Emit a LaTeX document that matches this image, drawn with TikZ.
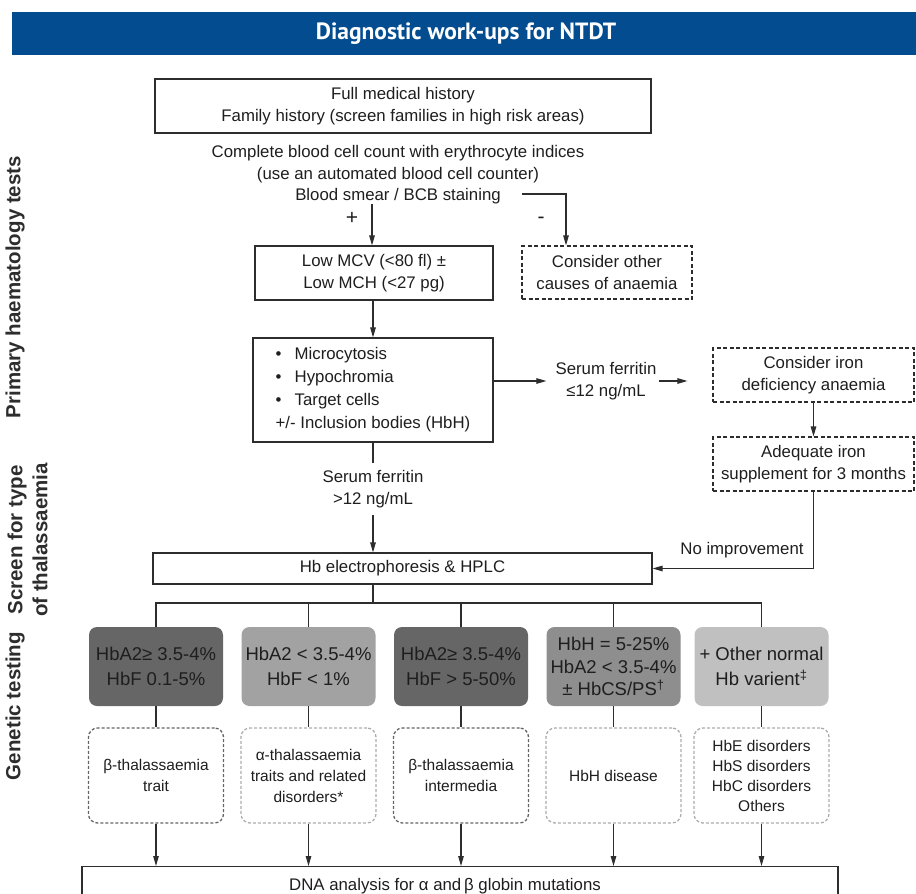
\documentclass[tikz,border=0pt]{standalone}
\usepackage{fontspec}
\setmainfont{Liberation Sans}
\newfontfamily\titlefont{PT Sans}
\usetikzlibrary{arrows.meta,calc}

\definecolor{barblue}{RGB}{2,76,143}
\definecolor{ink}{RGB}{30,30,30}
\definecolor{linecol}{RGB}{45,45,45}
\definecolor{labelgrey}{RGB}{45,45,45}
\definecolor{gdark}{RGB}{102,102,102}
\definecolor{glight}{RGB}{162,162,162}
\definecolor{gmid}{RGB}{142,142,142}
\definecolor{gpale}{RGB}{192,192,192}
\definecolor{dotdark}{RGB}{100,100,100}
\definecolor{dotlight}{RGB}{172,172,172}

\begin{document}
\begin{tikzpicture}[x=1pt,y=-1pt,
  every node/.style={text=ink, inner sep=0pt, font=\fontsize{16.8}{21.5}\selectfont},
  sq/.style={draw=linecol, line width=1.1pt, align=center},
  dsq/.style={sq, dash pattern=on 4pt off 2.5pt},
  greybox/.style={fill=#1, rounded corners=8pt, minimum width=134pt, minimum height=79pt,
    align=center, font=\fontsize{18.5}{24.5}\selectfont},
  dotbox/.style={draw=#1, rounded corners=9pt, line width=1.3pt, dash pattern=on 3pt off 2pt,
    minimum width=135pt, minimum height=95pt, align=center, font=\fontsize{15.5}{21}\selectfont},
  arr/.style={draw=linecol, line width=1.1pt, -{Triangle[length=10pt,width=5.5pt]}},
  conn/.style={draw=linecol, line width=1.1pt},
  sign/.style={font=\fontsize{21}{24}\selectfont},
  sidelabel/.style={rotate=90, text=labelgrey, align=center,
    font=\bfseries\fontsize{20.5}{25}\selectfont}
]
\useasboundingbox (0,0) rectangle (916,894);

% title bar
\fill[barblue] (12,12) rectangle (916,55);
\node[text=white, font=\titlefont\bfseries\fontsize{23.5}{26}\selectfont] (title) at (466,33.5) {Diagnostic work-ups for NTDT};

% side labels
\node[sidelabel] (labA) at (15,287) {Primary haematology tests};
\node[sidelabel] (labB) at (27.5,540) {Screen for type\\of thalassaemia};
\node[sidelabel] (labC) at (15,706) {Genetic testing};

% primary tests
\node[sq, minimum width=496pt, minimum height=54pt] (hist) at (403,106)
  {Full medical history\\Family history (screen families in high risk areas)};
\node[align=center] (cbc) at (398,175)
  {Complete blood cell count with erythrocyte indices\\(use an automated blood cell counter)\\Blood smear / BCB staining};
\coordinate (posstart) at (372,204);
\coordinate (negstart) at (522,194);
\node[sign] (plus) at (352,218) {+};
\node[sign] (minus) at (541,220) {-};

\node[sq, minimum width=238pt, minimum height=54pt] (mcv) at (374,273)
  {Low MCV (<80 fl) ±\\Low MCH (<27 pg)};
\node[dsq, minimum width=170pt, minimum height=53pt] (other) at (607,272.5)
  {Consider other\\causes of anaemia};

\draw[arr] (posstart) -- (posstart |- mcv.north);
\draw[arr] (negstart) -| ([xshift=-41pt]other.north);

\node[sq, minimum width=240pt, minimum height=104pt, align=left,
  font=\fontsize{16.8}{23}\selectfont] (smear) at (373,390)
  {\makebox[19pt][l]{\textbullet}Microcytosis\\
   \makebox[19pt][l]{\textbullet}Hypochromia\\
   \makebox[19pt][l]{\textbullet}Target cells\\
   +/- Inclusion bodies (HbH)};
\draw[arr] (mcv.south -| smear.north) -- (smear.north);

% ferritin branches
\node[align=center, inner ysep=7pt] (ferhi) at (373,489) {Serum ferritin\\>12 ng/mL};
\node[align=center] (ferlo) at (606,381) {Serum ferritin\\≤12 ng/mL};

\node[dsq, minimum width=201pt, minimum height=54pt] (iron) at (813.5,375)
  {Consider iron\\deficiency anaemia};
\node[dsq, minimum width=201pt, minimum height=54pt] (adeq) at (813.5,464)
  {Adequate iron\\supplement for 3 months};

\draw[arr] (smear.east |- ferlo) -- ([xshift=-9pt]ferlo.west);
\draw[arr] ([xshift=2pt]ferlo.east) -- ([xshift=-25pt]iron.west |- ferlo);
\draw[arr] (iron.south) -- (adeq.north);

% screening
\node[sq, minimum width=499pt, minimum height=31pt] (hb) at (402.5,568.5)
  {Hb electrophoresis \& HPLC};
\draw[conn] (smear.south) -- (ferhi.north);
\draw[arr] (ferhi.south) -- (ferhi.south |- hb.north);
\draw[arr] (adeq.south) |- (hb.east);
\node (noimp) at (742,550) {No improvement};

% haemoglobin patterns
\node[greybox=gdark] (g1) at (156,666.5) {HbA2≥ 3.5-4\%\\HbF 0.1-5\%};
\node[greybox=glight] (g2) at (308.5,666.5) {HbA2 < 3.5-4\%\\HbF < 1\%};
\node[greybox=gdark] (g3) at (461,666.5) {HbA2≥ 3.5-4\%\\HbF > 5-50\%};
\node[greybox=gmid, font=\fontsize{18.5}{22.5}\selectfont] (g4) at (613.5,666.5)
  {HbH = 5-25\%\\HbA2 < 3.5-4\%\\± HbCS/PS\textsuperscript{†}};
\node[greybox=gpale] (g5) at (761.5,666.5) {+ Other normal\\Hb varient\textsuperscript{‡}};

\coordinate (bus) at (373,603);
\draw[conn] (ferhi.south |- hb.south) -- (ferhi.south |- bus);
\draw[conn] (g1.north) -- (g1.north |- bus) -- (g5.north |- bus) -- (g5.north);
\foreach \g in {g2,g3,g4} \draw[conn] (\g.north) -- (\g.north |- bus);

% diagnoses
\node[dotbox=dotdark] (d1) at (156,775.5) {β-thalassaemia\\trait};
\node[dotbox=dotlight] (d2) at (308.5,775.5) {α-thalassaemia\\traits and related\\disorders*};
\node[dotbox=dotdark] (d3) at (461,775.5) {β-thalassaemia\\intermedia};
\node[dotbox=dotlight] (d4) at (613.5,775.5) {HbH disease};
\node[dotbox=dotlight, font=\fontsize{15.5}{20}\selectfont] (d5) at (761.5,775.5)
  {HbE disorders\\HbS disorders\\HbC disorders\\Others};

% genetic testing
\node[sq, minimum width=756pt, minimum height=40pt, anchor=north] (dna) at (460,866)
  {\makebox[300pt]{DNA analysis for α and\,β globin mutations}\hspace{30pt}};

\foreach \i in {1,...,5} {
  \draw[conn] (g\i.south) -- (d\i.north);
  \draw[arr] (d\i.south) -- (d\i.south |- dna.north);
}
\end{tikzpicture}
\end{document}
